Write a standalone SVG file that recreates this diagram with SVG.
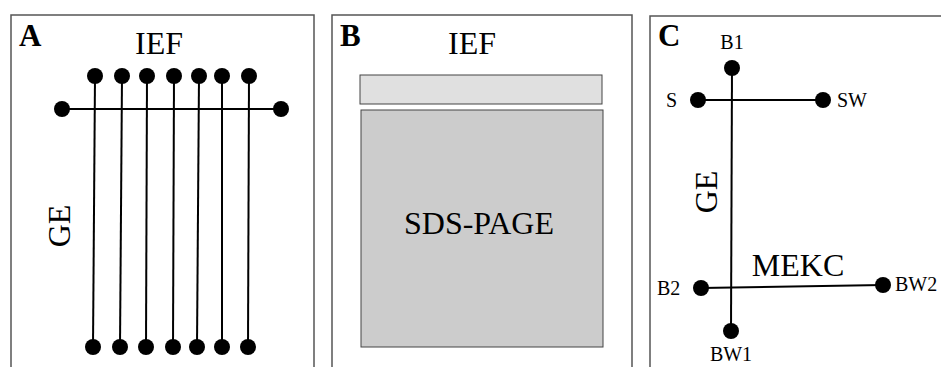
<svg xmlns="http://www.w3.org/2000/svg" width="941" height="367" viewBox="0 0 941 367">
<style>
.panel{fill:#fff;stroke:#555;stroke-width:1.5}
.ln{stroke:#000;stroke-width:2;fill:none}
.dot{fill:#000}
.big{font-family:"Liberation Serif","Times New Roman",serif;font-size:32px;fill:#000}
.lab{font-family:"Liberation Serif","Times New Roman",serif;font-size:31px;font-weight:bold;fill:#000}
.sm{font-family:"Liberation Serif","Times New Roman",serif;font-size:20px;fill:#000}
</style>
<rect width="941" height="367" fill="#fff"/>
<g id="panelA">
<path class="panel" d="M11,368 V15 H314 V368"/>
<text class="lab" x="19" y="46">A</text>
<text class="big" x="159" y="54" text-anchor="middle">IEF</text>
<text class="big" transform="translate(70,226) rotate(-90)" text-anchor="middle">GE</text>
</g>
<g id="panelB">
<path class="panel" d="M332,368 V15 H632 V368"/>
<text class="lab" x="340" y="46">B</text>
<text class="big" x="472" y="54" text-anchor="middle">IEF</text>
<rect id="ief-strip" x="360" y="75" width="242" height="29" fill="#e0e0e0" stroke="#444" stroke-width="1"/>
<rect id="sds-gel" x="361" y="110" width="242" height="237" fill="#cccccc" stroke="#444" stroke-width="1"/>
<text class="big" x="479" y="234" text-anchor="middle">SDS-PAGE</text>
</g>
<g id="panelC">
<path class="panel" d="M650,368 V16 H942"/>
<text class="lab" x="658" y="46">C</text>
<text class="sm" x="732" y="49" text-anchor="middle">B1</text>
<text class="sm" x="666" y="107">S</text>
<text class="sm" x="837" y="107">SW</text>
<text class="big" transform="translate(717,192) rotate(-90)" text-anchor="middle">GE</text>
<text class="big" x="798" y="276" text-anchor="middle">MEKC</text>
<text class="sm" x="657" y="295">B2</text>
<text class="sm" x="895" y="291">BW2</text>
<text class="sm" x="731" y="361" text-anchor="middle">BW1</text>
</g>
<g id="connectors">
<line class="ln" x1="62" y1="109" x2="281" y2="109"/>
<line class="ln" x1="95" y1="76" x2="93" y2="347"/>
<line class="ln" x1="122" y1="76" x2="120" y2="347"/>
<line class="ln" x1="147" y1="76" x2="146" y2="347"/>
<line class="ln" x1="174" y1="76" x2="173" y2="347"/>
<line class="ln" x1="199" y1="76" x2="197" y2="347"/>
<line class="ln" x1="222" y1="76" x2="222" y2="347"/>
<line class="ln" x1="249" y1="76" x2="248" y2="347"/>
<line class="ln" x1="698" y1="100" x2="823" y2="100"/>
<line class="ln" x1="732" y1="68" x2="731" y2="331"/>
<line class="ln" x1="701" y1="288" x2="883" y2="285"/>
</g>
<g id="dots">
<circle class="dot" cx="62" cy="109" r="8"/>
<circle class="dot" cx="281" cy="109" r="8"/>
<circle class="dot" cx="95" cy="76" r="8"/>
<circle class="dot" cx="122" cy="76" r="8"/>
<circle class="dot" cx="147" cy="76" r="8"/>
<circle class="dot" cx="174" cy="76" r="8"/>
<circle class="dot" cx="199" cy="76" r="8"/>
<circle class="dot" cx="222" cy="76" r="8"/>
<circle class="dot" cx="249" cy="76" r="8"/>
<circle class="dot" cx="93" cy="347" r="8"/>
<circle class="dot" cx="120" cy="347" r="8"/>
<circle class="dot" cx="146" cy="347" r="8"/>
<circle class="dot" cx="173" cy="347" r="8"/>
<circle class="dot" cx="197" cy="347" r="8"/>
<circle class="dot" cx="222" cy="347" r="8"/>
<circle class="dot" cx="248" cy="347" r="8"/>
<circle class="dot" cx="732" cy="68" r="8"/>
<circle class="dot" cx="698" cy="100" r="8"/>
<circle class="dot" cx="823" cy="100" r="8"/>
<circle class="dot" cx="701" cy="288" r="8"/>
<circle class="dot" cx="883" cy="285" r="8"/>
<circle class="dot" cx="731" cy="331" r="8"/>
</g>
</svg>
